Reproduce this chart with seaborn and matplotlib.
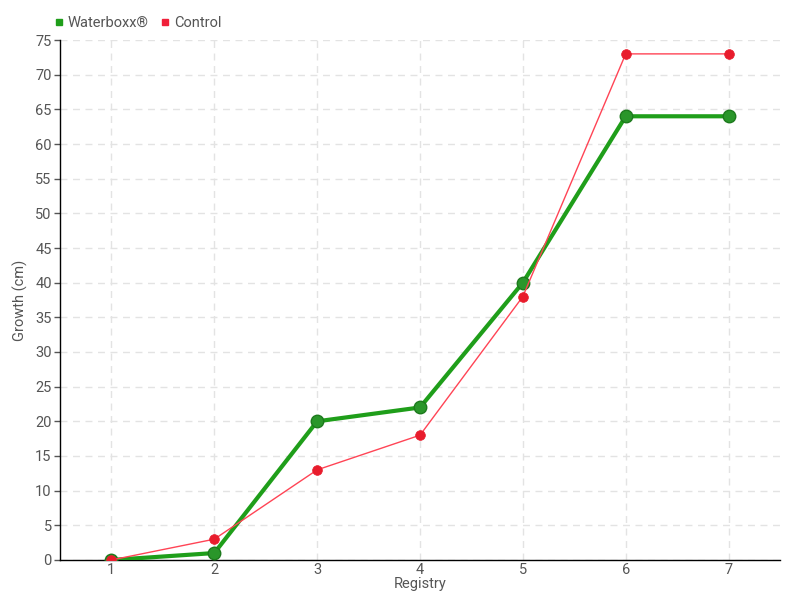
import pandas as pd
import matplotlib.pyplot as plt
import seaborn as sns

# values
registry = [1, 2, 3, 4, 5, 6, 7]
waterboxx = [0, 1, 20, 22, 40, 64, 64]
control = [0, 3, 13, 18, 38, 73, 73]

df = pd.DataFrame({
    'Registry': registry * 2,
    'Growth': waterboxx + control,
    'Series': ['Waterboxx®'] * len(registry) + ['Control'] * len(registry),
})

sns.set_style('white')
plt.rcParams['font.family'] = ['Roboto', 'DejaVu Sans']
text_col = '#555555'

fig = plt.figure(figsize=(8, 6), dpi=100)
ax = fig.add_axes([0.075, 0.0667, 0.9, 0.8666])

palette = {'Waterboxx®': '#1f9e1a', 'Control': '#f0303f'}

# Waterboxx: thick line, big markers
sns.lineplot(data=df[df['Series'] == 'Waterboxx®'], x='Registry', y='Growth',
             color=palette['Waterboxx®'], linewidth=3, marker='o', markersize=9,
             markerfacecolor='#2a962a', markeredgecolor='#1d7a1d', markeredgewidth=1,
             ax=ax, legend=False, zorder=3)
# Control: thin line, small markers
sns.lineplot(data=df[df['Series'] == 'Control'], x='Registry', y='Growth',
             color='#ff4455', linewidth=1, marker='o', markersize=7,
             markerfacecolor='#e81c2c', markeredgecolor='#e81c2c', markeredgewidth=0.5,
             ax=ax, legend=False, zorder=4)

ax.set_xlim(0.5, 7.5)
ax.set_ylim(0, 75)
ax.set_xticks(registry)
ax.set_yticks(range(0, 76, 5))
ax.grid(True, linestyle=(0, (5, 4)), color='#e3e3e3', linewidth=1)
ax.set_axisbelow(True)

for s in ['top', 'right']:
    ax.spines[s].set_visible(False)
for s in ['left', 'bottom']:
    ax.spines[s].set_color('black')
    ax.spines[s].set_linewidth(1)

ax.tick_params(axis='both', colors=text_col, labelsize=10.5, length=4, width=1,
               direction='out', left=True, bottom=True, pad=2)
ax.tick_params(axis='x', length=0, pad=2)
ax.set_xlabel('Registry', color=text_col, fontsize=10.5, labelpad=0)
ax.set_ylabel('Growth (cm)', color=text_col, fontsize=10.5)
ax.yaxis.set_label_coords(-0.045, 0.5)

handles = [
    plt.Line2D([], [], linestyle='', marker='s', markersize=5, color='#1f9e1a'),
    plt.Line2D([], [], linestyle='', marker='s', markersize=5, color='#f0203a'),
]
leg = fig.legend(handles, ['Waterboxx®', 'Control'], loc='upper left',
                 bbox_to_anchor=(0.052, 0.995), ncol=2, frameon=False,
                 handlelength=0.6, handletextpad=0.3, columnspacing=0.8,
                 fontsize=10.5, labelcolor=text_col)

fig.savefig('out.png', dpi=100)
